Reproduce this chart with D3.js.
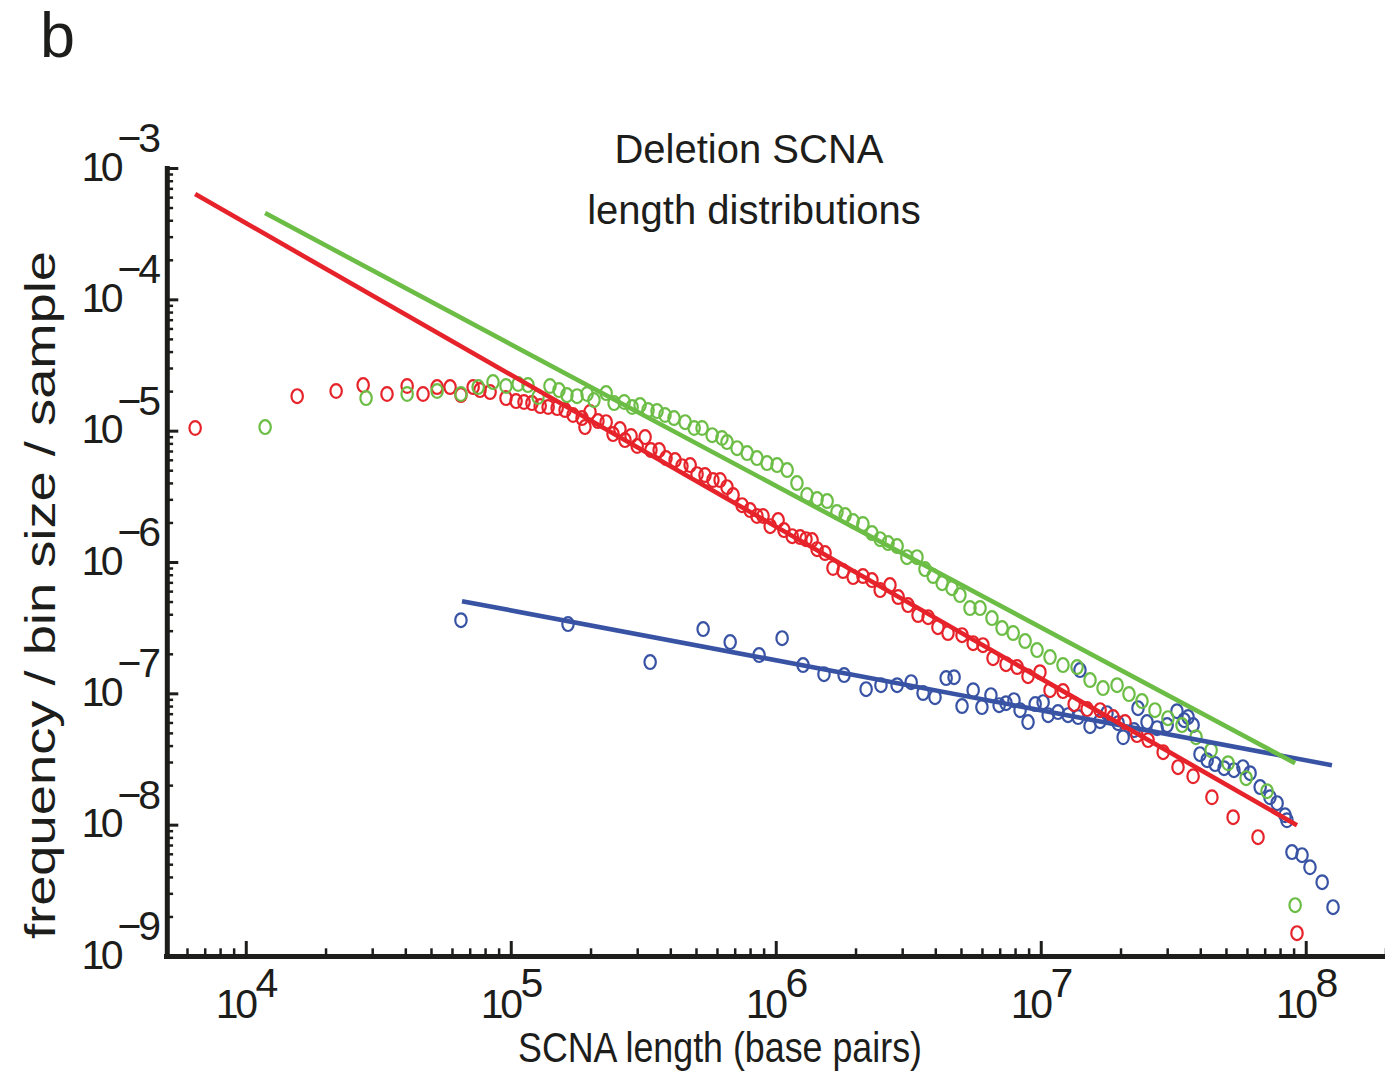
<!DOCTYPE html>
<html>
<head>
<meta charset="utf-8">
<title>Deletion SCNA length distributions</title>
<script src="https://cdn.jsdelivr.net/npm/d3@7"></script>
<style>
  body { margin: 0; background: #fff; }
  svg { display: block; font-family: "Liberation Sans", Arial, Helvetica, sans-serif; }
</style>
</head>
<body>
<div id="chart"></div>
<script>
// each point is [log10 SCNA length (bp), log10 frequency / bin size / sample]
const red = [[3.809,-4.980],[4.194,-4.737],[4.341,-4.698],[4.443,-4.653],[4.533,-4.721],[4.609,-4.660],[4.669,-4.721],[4.722,-4.668],[4.771,-4.668],[4.812,-4.729],[4.858,-4.668],[4.884,-4.691],[4.922,-4.706],[4.982,-4.752],[5.020,-4.775],[5.050,-4.782],[5.080,-4.790],[5.111,-4.813],[5.141,-4.820],[5.175,-4.828],[5.205,-4.843],[5.235,-4.881],[5.269,-4.904],[5.280,-4.973],[5.299,-4.858],[5.329,-4.927],[5.360,-4.935],[5.386,-5.026],[5.412,-4.988],[5.431,-5.072],[5.454,-5.041],[5.477,-5.117],[5.507,-5.049],[5.529,-5.148],[5.560,-5.148],[5.586,-5.209],[5.620,-5.224],[5.646,-5.270],[5.677,-5.262],[5.703,-5.331],[5.733,-5.338],[5.763,-5.376],[5.790,-5.376],[5.816,-5.430],[5.839,-5.490],[5.873,-5.567],[5.903,-5.605],[5.929,-5.650],[5.952,-5.650],[5.979,-5.727],[6.009,-5.681],[6.031,-5.757],[6.062,-5.803],[6.092,-5.810],[6.114,-5.826],[6.137,-5.833],[6.156,-5.902],[6.186,-5.932],[6.216,-6.046],[6.254,-6.069],[6.292,-6.115],[6.329,-6.107],[6.363,-6.138],[6.394,-6.214],[6.431,-6.176],[6.462,-6.267],[6.499,-6.328],[6.537,-6.404],[6.575,-6.420],[6.612,-6.496],[6.650,-6.541],[6.703,-6.557],[6.745,-6.618],[6.782,-6.633],[6.820,-6.732],[6.869,-6.778],[6.911,-6.800],[6.952,-6.869],[6.997,-6.839],[7.035,-6.976],[7.084,-6.983],[7.126,-7.082],[7.175,-7.120],[7.224,-7.128],[7.273,-7.181],[7.318,-7.219],[7.363,-7.318],[7.405,-7.356],[7.462,-7.448],[7.518,-7.562],[7.575,-7.631],[7.646,-7.791],[7.726,-7.943],[7.820,-8.095],[7.967,-8.826]]

const green = [[4.073,-4.973],[4.454,-4.752],[4.609,-4.721],[4.722,-4.698],[4.812,-4.721],[4.877,-4.668],[4.933,-4.630],[4.982,-4.660],[5.028,-4.645],[5.065,-4.653],[5.103,-4.744],[5.148,-4.660],[5.182,-4.691],[5.212,-4.729],[5.250,-4.737],[5.288,-4.721],[5.314,-4.767],[5.360,-4.714],[5.390,-4.790],[5.428,-4.782],[5.458,-4.820],[5.488,-4.805],[5.518,-4.843],[5.552,-4.851],[5.582,-4.881],[5.616,-4.904],[5.658,-4.935],[5.692,-4.980],[5.722,-4.980],[5.760,-5.034],[5.797,-5.056],[5.816,-5.087],[5.854,-5.133],[5.892,-5.171],[5.929,-5.209],[5.967,-5.247],[6.005,-5.262],[6.043,-5.300],[6.080,-5.399],[6.118,-5.490],[6.156,-5.521],[6.194,-5.536],[6.231,-5.620],[6.262,-5.643],[6.292,-5.688],[6.329,-5.711],[6.363,-5.780],[6.394,-5.826],[6.424,-5.856],[6.458,-5.879],[6.495,-5.963],[6.533,-5.963],[6.563,-6.054],[6.594,-6.107],[6.628,-6.161],[6.665,-6.199],[6.695,-6.252],[6.733,-6.351],[6.771,-6.351],[6.816,-6.427],[6.854,-6.503],[6.896,-6.541],[6.941,-6.602],[6.986,-6.671],[7.035,-6.724],[7.084,-6.785],[7.137,-6.800],[7.186,-6.899],[7.235,-6.960],[7.288,-6.938],[7.333,-7.006],[7.382,-7.059],[7.431,-7.128],[7.480,-7.189],[7.533,-7.242],[7.586,-7.334],[7.643,-7.433],[7.707,-7.532],[7.775,-7.646],[7.854,-7.745],[7.960,-8.613]]

const blue = [[4.812,-6.443],[5.216,-6.473],[5.526,-6.762],[5.726,-6.511],[5.828,-6.610],[5.937,-6.709],[6.024,-6.580],[6.103,-6.785],[6.182,-6.854],[6.258,-6.861],[6.341,-6.968],[6.397,-6.938],[6.458,-6.938],[6.511,-6.915],[6.556,-6.998],[6.601,-7.029],[6.643,-6.884],[6.673,-6.877],[6.703,-7.097],[6.745,-6.976],[6.778,-7.105],[6.812,-7.014],[6.843,-7.090],[6.869,-7.075],[6.899,-7.052],[6.922,-7.128],[6.952,-7.219],[6.979,-7.082],[7.009,-7.067],[7.028,-7.166],[7.065,-7.143],[7.103,-7.166],[7.141,-7.181],[7.148,-6.823],[7.186,-7.250],[7.224,-7.212],[7.250,-7.151],[7.292,-7.227],[7.311,-7.334],[7.352,-7.280],[7.367,-7.113],[7.401,-7.219],[7.439,-7.265],[7.477,-7.242],[7.514,-7.136],[7.541,-7.204],[7.556,-7.181],[7.575,-7.242],[7.601,-7.463],[7.628,-7.509],[7.658,-7.539],[7.692,-7.570],[7.729,-7.585],[7.763,-7.562],[7.790,-7.608],[7.828,-7.714],[7.865,-7.791],[7.892,-7.836],[7.922,-7.928],[7.929,-7.966],[7.948,-8.209],[7.986,-8.232],[8.016,-8.324],[8.062,-8.438],[8.103,-8.628]]

// power-law fits, end points
const redFit = [[3.809,-3.198],[7.967,-8.004]]
const greenFit = [[4.073,-3.343],[7.960,-7.532]]
const blueFit = [[4.816,-6.298],[8.099,-7.547]]

const xMajor = [4, 5, 6, 7, 8]
const yMajor = [-9, -8, -7, -6, -5, -4, -3]

const colors = { red: '#e6232a', green: '#6bbd45', blue: '#3953a4' }

const width = 1385, height = 1077

const svg = d3.select('#chart').append('svg')
    .attr('width', width)
    .attr('height', height)

const x = d3.scaleLog().domain([5e3, 2e8]).range([166, 1385.5]),
      y = d3.scaleLog().domain([1e-9, 1e-3]).range([956, 168])

// 1..9 x 10^n ticks inside the domain
function logTicks(scale) {
    let [a, b] = scale.domain(), out = []
    for (let e = Math.floor(Math.log10(a)); e <= Math.ceil(Math.log10(b)); e++)
        for (let k = 1; k < 10; k++) {
            let v = k * Math.pow(10, e)
            if (v >= a * 0.999 && v <= b * 1.001) out.push(v)
        }
    return out
}
const isMajor = d => Math.abs(Math.log10(d) - Math.round(Math.log10(d))) < 1e-6

// data points
const pts = svg.append('g')
function drawPoints(data, color) {
    pts.selectAll(null)
        .data(data)
        .enter().append('ellipse')
        .attr('cx', d => x(Math.pow(10, d[0])))
        .attr('cy', d => y(Math.pow(10, d[1])))
        .attr('rx', 5.7)
        .attr('ry', 6.9)
        .attr('fill', 'none')
        .attr('stroke', color)
        .attr('stroke-width', 2.2)
}
drawPoints(blue, colors.blue)
drawPoints(red, colors.red)
drawPoints(green, colors.green)

// fit lines
const line = d3.line()
    .x(d => x(Math.pow(10, d[0])))
    .y(d => y(Math.pow(10, d[1])))

;[[blueFit, colors.blue], [redFit, colors.red], [greenFit, colors.green]].forEach(f => {
    svg.append('path')
        .datum(f[0])
        .attr('d', line)
        .attr('fill', 'none')
        .attr('stroke', f[1])
        .attr('stroke-width', 4.6)
})

// axes, ticks pointing inward
const axisColor = '#1d1d1b'

const gx = svg.append('g')
    .attr('transform', 'translate(0,956)')
    .style('color', axisColor)
    .call(d3.axisBottom(x).tickValues(logTicks(x)).tickSizeInner(-7.7).tickSizeOuter(0).tickFormat(''))
gx.select('.domain').attr('stroke-width', 5).attr('stroke-linecap', 'square')
gx.selectAll('.tick line')
    .attr('stroke-width', d => isMajor(d) ? 3 : 2.5)
    .attr('y2', d => isMajor(d) ? -15 : -7.7)

const gy = svg.append('g')
    .attr('transform', 'translate(166.8,0)')
    .style('color', axisColor)
    .call(d3.axisLeft(y).tickValues(logTicks(y)).tickSizeInner(-6.3).tickSizeOuter(0).tickFormat(''))
gy.select('.domain').attr('stroke-width', 5).attr('stroke-linecap', 'square')
gy.selectAll('.tick line')
    .attr('stroke-width', d => isMajor(d) ? 3 : 2.5)
    .attr('x2', d => isMajor(d) ? 11.5 : 6.3)

// tick labels: one text each, 10 with a raised exponent
const txt = svg.append('g').attr('fill', '#1d1d1b')

xMajor.forEach(e => {
    let tx = x(Math.pow(10, e))
    let t = txt.append('text')
        .attr('x', tx - 30).attr('y', 1018)
        .attr('font-size', 41)
    t.append('tspan').attr('letter-spacing', -3.2).text('10')
    t.append('tspan').attr('dy', -21).attr('dx', 0.5).text(e)
})

yMajor.forEach(e => {
    let ty = y(Math.pow(10, e))
    let t = txt.append('text')
        .attr('x', 81.5).attr('y', ty + 12.5)
        .attr('font-size', 41)
    t.append('tspan').attr('letter-spacing', -3.5).text('10')
    t.append('tspan').attr('dy', -28.5).attr('dx', -2.6).attr('letter-spacing', -3.2).text('\u2212' + Math.abs(e))
})

// axis titles
txt.append('text')
    .attr('x', 720).attr('y', 1062)
    .attr('text-anchor', 'middle')
    .attr('font-size', 42)
    .attr('textLength', 404).attr('lengthAdjust', 'spacingAndGlyphs')
    .text('SCNA length (base pairs)')

txt.append('text')
    .attr('transform', 'translate(55,595) rotate(-90)')
    .attr('text-anchor', 'middle')
    .attr('font-size', 42)
    .attr('textLength', 688).attr('lengthAdjust', 'spacingAndGlyphs')
    .text('frequency / bin size / sample')

// title
txt.append('text')
    .attr('x', 749).attr('y', 163)
    .attr('text-anchor', 'middle')
    .attr('font-size', 40)
    .text('Deletion SCNA')
txt.append('text')
    .attr('x', 754).attr('y', 224)
    .attr('text-anchor', 'middle')
    .attr('font-size', 40)
    .text('length distributions')

// panel letter
txt.append('text')
    .attr('x', 40).attr('y', 57)
    .attr('font-size', 63)
    .text('b')
</script>
</body>
</html>
